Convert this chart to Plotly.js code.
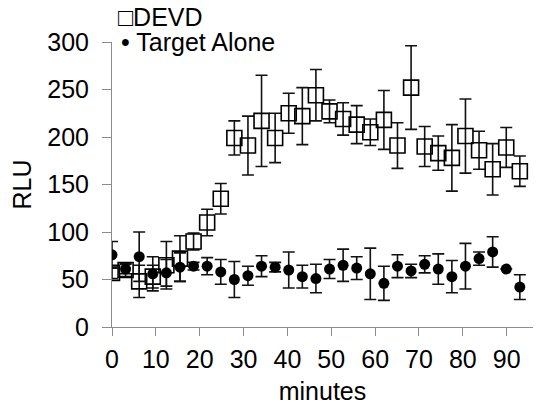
<!DOCTYPE html>
<html>
<head>
<meta charset="utf-8">
<script src="https://cdn.plot.ly/plotly-3.0.1.min.js"></script>
<style>html,body{margin:0;padding:0;background:#fff;}#chart{width:538px;height:415px;}</style>
</head>
<body>
<div id="chart"></div>
<script>
var minutes = [0,3.1,6.2,9.3,12.4,15.5,18.6,21.7,24.8,27.9,31,34.1,37.2,40.3,43.4,46.5,49.6,52.7,55.8,58.9,62,65.1,68.2,71.3,74.4,77.5,80.6,83.7,86.8,89.9,93];
var devd = [57,60,48,53,65,72,90,110,135,199,191,217,199,225,222,244,227,219,213,205,218,191,252,190,183,178,201,186,166,189,164];
var devdErr = [6,7,17,12,25,24,9,14,16,18,31,48,26,21,30,27,12,17,20,14,31,24,44,21,18,35,39,20,27,21,16];
var target = [76,61,74,56,57,63,64,64,58,50,54,64,63,60,53,51,61,65,62,56,46,64,59,66,61,53,64,72,79,61,42];
var targetErr = [14,5,26,18,14,15,4,9,13,19,10,11,5,19,12,15,10,17,12,27,18,12,7,9,16,17,24,7,16,0,13];
var xTicks = [0,10,20,30,40,50,60,70,80,90];
var yTicks = [0,50,100,150,200,250,300];

var FONT = 'Liberation Sans, Arial, sans-serif';
var errStyle = {type:'data', visible:true, thickness:1.6, width:6, color:'#111'};

var traces = [
  {x:minutes, y:devd, name:'DEVD', type:'scatter', mode:'markers',
   error_y:Object.assign({array:devdErr}, errStyle),
   marker:{symbol:'square-open', size:15, color:'#000', line:{width:1.6, color:'#111'}}},
  {x:minutes, y:target, name:'Target Alone', type:'scatter', mode:'markers',
   error_y:Object.assign({array:targetErr}, errStyle),
   marker:{symbol:'circle', size:11, color:'#000'}}
];

var L = 112.4, T = 41.7, W = 420.9, H = 285.6;
function px2x(p){ return (p - L)/W; }
function px2y(p){ return (T + H - p)/H; }

var layout = {
  width:538, height:415,
  margin:{l:L, r:538-L-W, t:T, b:415-T-H, pad:0},
  paper_bgcolor:'#fff', plot_bgcolor:'#fff',
  showlegend:false,
  font:{family:FONT, color:'#000'},
  xaxis:{range:[0,96], tickvals:xTicks, ticktext:xTicks.map(String),
    showgrid:false, zeroline:false, showline:true, linecolor:'#8c8c8c', linewidth:1,
    ticks:'outside', ticklen:8, tickcolor:'#8c8c8c', tickwidth:1,
    ticklabeloverflow:'allow', ticklabelstandoff:2,
    tickfont:{family:FONT, size:25, color:'#000'},
    title:{text:'minutes', font:{family:FONT, size:25, color:'#000'}, standoff:10},
    automargin:false},
  yaxis:{range:[0,300], tickvals:yTicks, ticktext:yTicks.map(String),
    showgrid:false, zeroline:false, showline:true, linecolor:'#8c8c8c', linewidth:1,
    ticks:'outside', ticklen:9, tickcolor:'#8c8c8c', tickwidth:1,
    ticklabeloverflow:'allow', ticklabelstandoff:8,
    tickfont:{family:FONT, size:25, color:'#000'},
    title:{text:'RLU', font:{family:FONT, size:25, color:'#000'}, standoff:8},
    automargin:false},
  annotations:[
    {text:'\u25A1DEVD', xref:'paper', yref:'paper', x:px2x(116), y:px2y(17), xanchor:'left', yanchor:'middle', showarrow:false, font:{family:FONT, size:25, color:'#000'}},
    {text:'\u2022 Target Alone', xref:'paper', yref:'paper', x:px2x(119), y:px2y(42), xanchor:'left', yanchor:'middle', showarrow:false, font:{family:FONT, size:25, color:'#000'}}
  ]
};

Plotly.newPlot('chart', traces, layout, {displayModeBar:false, staticPlot:true});
</script>
</body>
</html>
